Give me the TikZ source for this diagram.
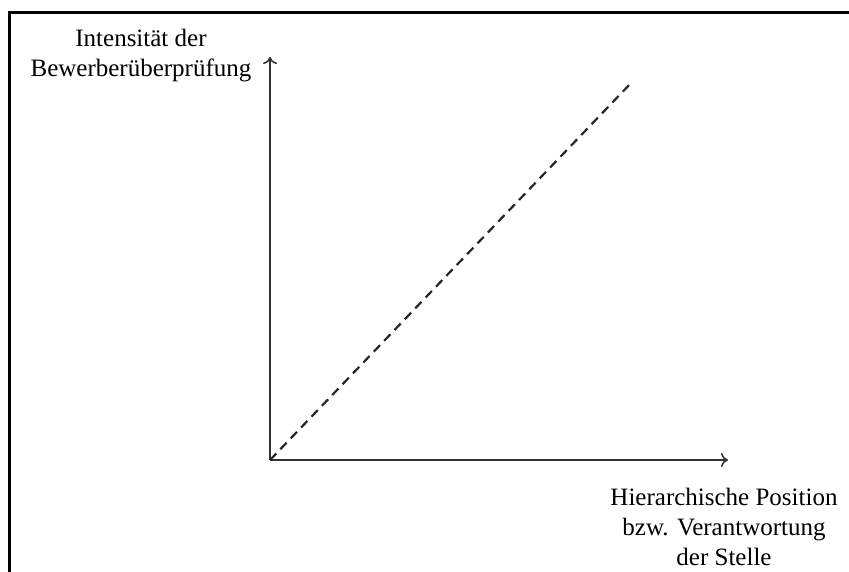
\documentclass[tikz,border=0pt]{standalone}
\usepackage{fontspec}
\setmainfont{Liberation Serif}
\usetikzlibrary{arrows.meta}
\begin{document}
\begin{tikzpicture}[x=1pt, y=-1pt,
	axis/.style={-{To[length=7pt, width=14pt]}, line width=1.6pt, black!80},
	axislabel/.style={align=center, inner sep=0pt, font=\fontsize{25}{30}\selectfont}]
	\useasboundingbox (0,0) rectangle (849,571);
	\draw[line width=3pt] (9,580) -- (9,12) -- (860,12);
	\coordinate (origin) at (270,460);
	\coordinate (ytip) at (270,57);
	\coordinate (xtip) at (728,460);
	\coordinate (linend) at (632,82);
	\draw[axis] (origin) -- (ytip);
	\draw[axis] (origin) -- (xtip);
	\draw[line width=2.2pt, black!85, dash pattern=on 9pt off 6pt] (origin) -- (linend);
	\node[axislabel] (ylabel) at (141,56) {Intensität der\\Bewerberüberprüfung};
	\node[axislabel] (xlabel) at (724,527) {Hierarchische Position\\bzw. Verantwortung\\der Stelle};
\end{tikzpicture}
\end{document}
